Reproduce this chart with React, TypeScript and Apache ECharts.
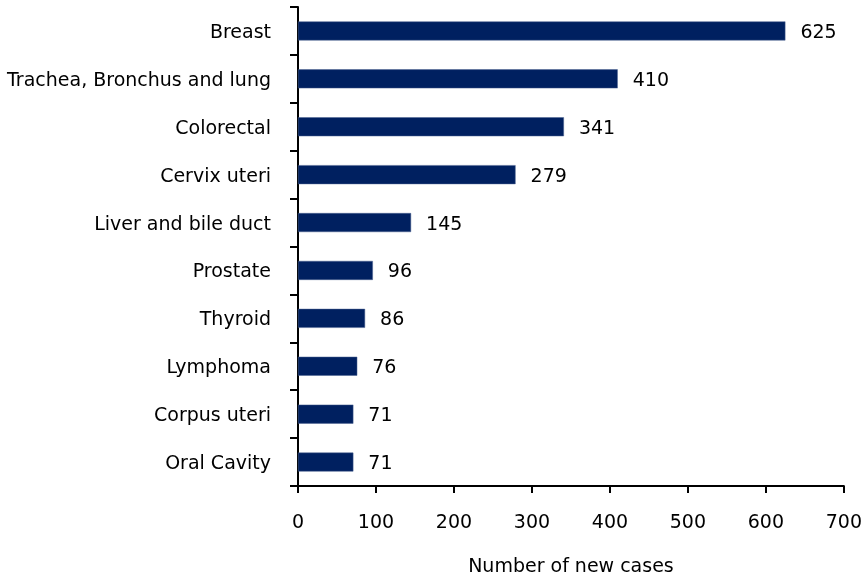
import React, { useEffect, useRef } from "react";
import * as echarts from "echarts";

const categories = [
  "Breast",
  "Trachea, Bronchus and lung",
  "Colorectal",
  "Cervix uteri",
  "Liver and bile duct",
  "Prostate",
  "Thyroid",
  "Lymphoma",
  "Corpus uteri",
  "Oral Cavity",
];
const values = [625, 410, 341, 279, 145, 96, 86, 76, 71, 71];
const xTitle = "Number of new cases";

export default function App() {
  const ref = useRef<HTMLDivElement>(null);
  useEffect(() => {
    if (!ref.current) return;
    const chart = echarts.init(ref.current, null, { renderer: "svg" });
    const font = "'DejaVu Sans', sans-serif";
    const fs = 19;
    chart.setOption({
      animation: false,
      grid: { left: 298, right: 20, top: 7, bottom: 95, containLabel: false },
      xAxis: {
        type: "value",
        min: 0,
        max: 700,
        interval: 100,
        name: xTitle,
        nameLocation: "middle",
        nameGap: 69,
        nameTextStyle: { color: "#000", fontSize: fs, fontFamily: font },
        splitLine: { show: false },
        axisLine: { show: true, lineStyle: { color: "#000", width: 2 } },
        axisTick: { show: true, length: 7, lineStyle: { color: "#000", width: 2 } },
        axisLabel: { color: "#000", fontSize: fs, fontFamily: font, margin: 25 },
      },
      yAxis: {
        type: "category",
        data: categories,
        inverse: true,
        axisLine: { show: true, lineStyle: { color: "#000", width: 2 } },
        axisTick: { show: true, length: 8, lineStyle: { color: "#000", width: 2 } },
        axisLabel: { color: "#000", fontSize: fs, fontFamily: font, margin: 27 },
      },
      series: [
        {
          type: "bar",
          data: values,
          barWidth: 19,
          itemStyle: { color: "#002060", borderColor: "#4a6291", borderWidth: 0.5 },
          label: {
            show: true,
            position: "right",
            distance: 15,
            color: "#000",
            fontSize: fs,
            fontFamily: font,
          },
        },
      ],
    });
    return () => chart.dispose();
  }, []);
  return (
    <div
      ref={ref}
      style={{ position: "fixed", left: 0, top: 0, width: 865, height: 581 }}
    />
  );
}
